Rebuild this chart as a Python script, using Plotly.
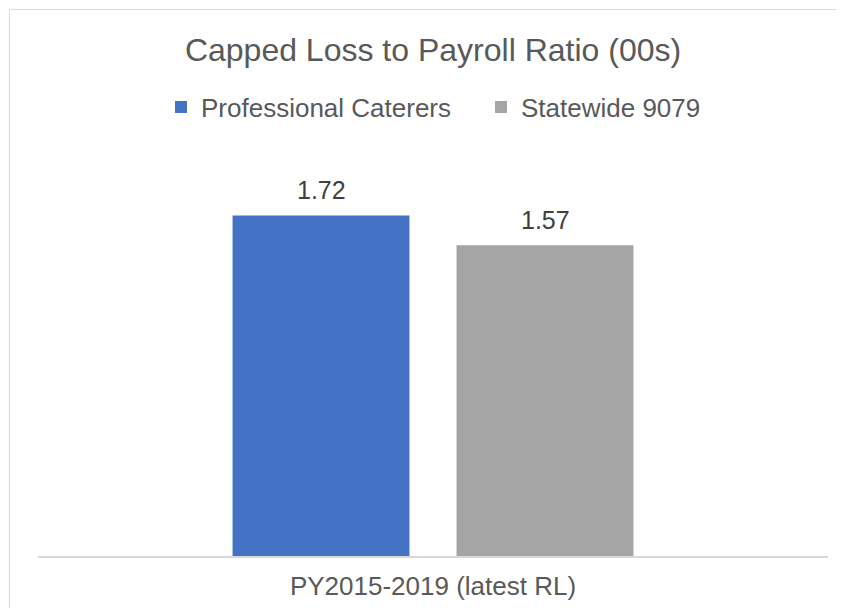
import plotly.graph_objects as go

categories = ["PY2015-2019 (latest RL)"]
series_names = ["Professional Caterers", "Statewide 9079"]
series_values = [[1.72], [1.57]]
series_colors = ["#4472C4", "#A5A5A5"]
title_text = "Capped Loss to Payroll Ratio (00s)"

# the page places the figure 8px in from the top-left corner;
# keep it small enough that no scrollbar appears
W, H = 828, 600
L, R, T, B = 30, 8, 152, 52
plot_w = W - L - R
plot_h = H - T - B
FONT = "Liberation Sans, Arial"

fig = go.Figure()
for name, vals, col in zip(series_names, series_values, series_colors):
    fig.add_trace(go.Bar(
        x=categories, y=vals, name=name,
        marker=dict(color=col, line=dict(width=0)),
        hoverinfo="skip",
    ))

# data labels through axis coordinates
offsets = [-112, 112]
for vals, off in zip(series_values, offsets):
    for c, v in zip(categories, vals):
        fig.add_annotation(
            x=c, y=v, xref="x", yref="y", text=f"{v:.2f}",
            showarrow=False, xshift=off, yanchor="bottom", yshift=9,
            font=dict(family=FONT, size=25, color="#404040"),
        )

def px_x(p):
    return (p - L) / plot_w

def px_y(p):
    return (H - B - p) / plot_h

# chart-area border: only the left and top edges fall inside the picture
fig.add_shape(type="line", xref="paper", yref="paper",
              x0=px_x(1.5), x1=px_x(1.5), y0=px_y(1.5), y1=px_y(H),
              line=dict(color="#D9D9D9", width=1), layer="below")
fig.add_shape(type="line", xref="paper", yref="paper",
              x0=px_x(1.5), x1=px_x(W), y0=px_y(1.5), y1=px_y(1.5),
              line=dict(color="#D9D9D9", width=1), layer="below")

fig.update_layout(
    width=W, height=H,
    margin=dict(l=L, r=R, t=T, b=B),
    paper_bgcolor="white", plot_bgcolor="white",
    barmode="group", bargap=0.433, bargroupgap=0.21,
    title=dict(text=title_text, x=px_x(425), xref="paper", xanchor="center",
               y=1 - 42 / H, yanchor="middle",
               font=dict(family=FONT, size=32, color="#595959")),
    legend=dict(orientation="h", x=px_x(153), xanchor="left", y=px_y(99), yanchor="middle",
                entrywidth=275, entrywidthmode="pixels",
                font=dict(family=FONT, size=26, color="#595959"),
                itemclick=False, bgcolor="rgba(0,0,0,0)"),
    xaxis=dict(range=[-0.5, 0.5], showline=True, linecolor="#D9D9D9", linewidth=1.5,
               showgrid=False, ticks="", zeroline=False, ticklabelstandoff=6,
               tickfont=dict(family=FONT, size=26, color="#595959")),
    yaxis=dict(range=[0, 2.0], visible=False, showgrid=False, zeroline=False),
    showlegend=True,
)

fig.write_html("out.html")
